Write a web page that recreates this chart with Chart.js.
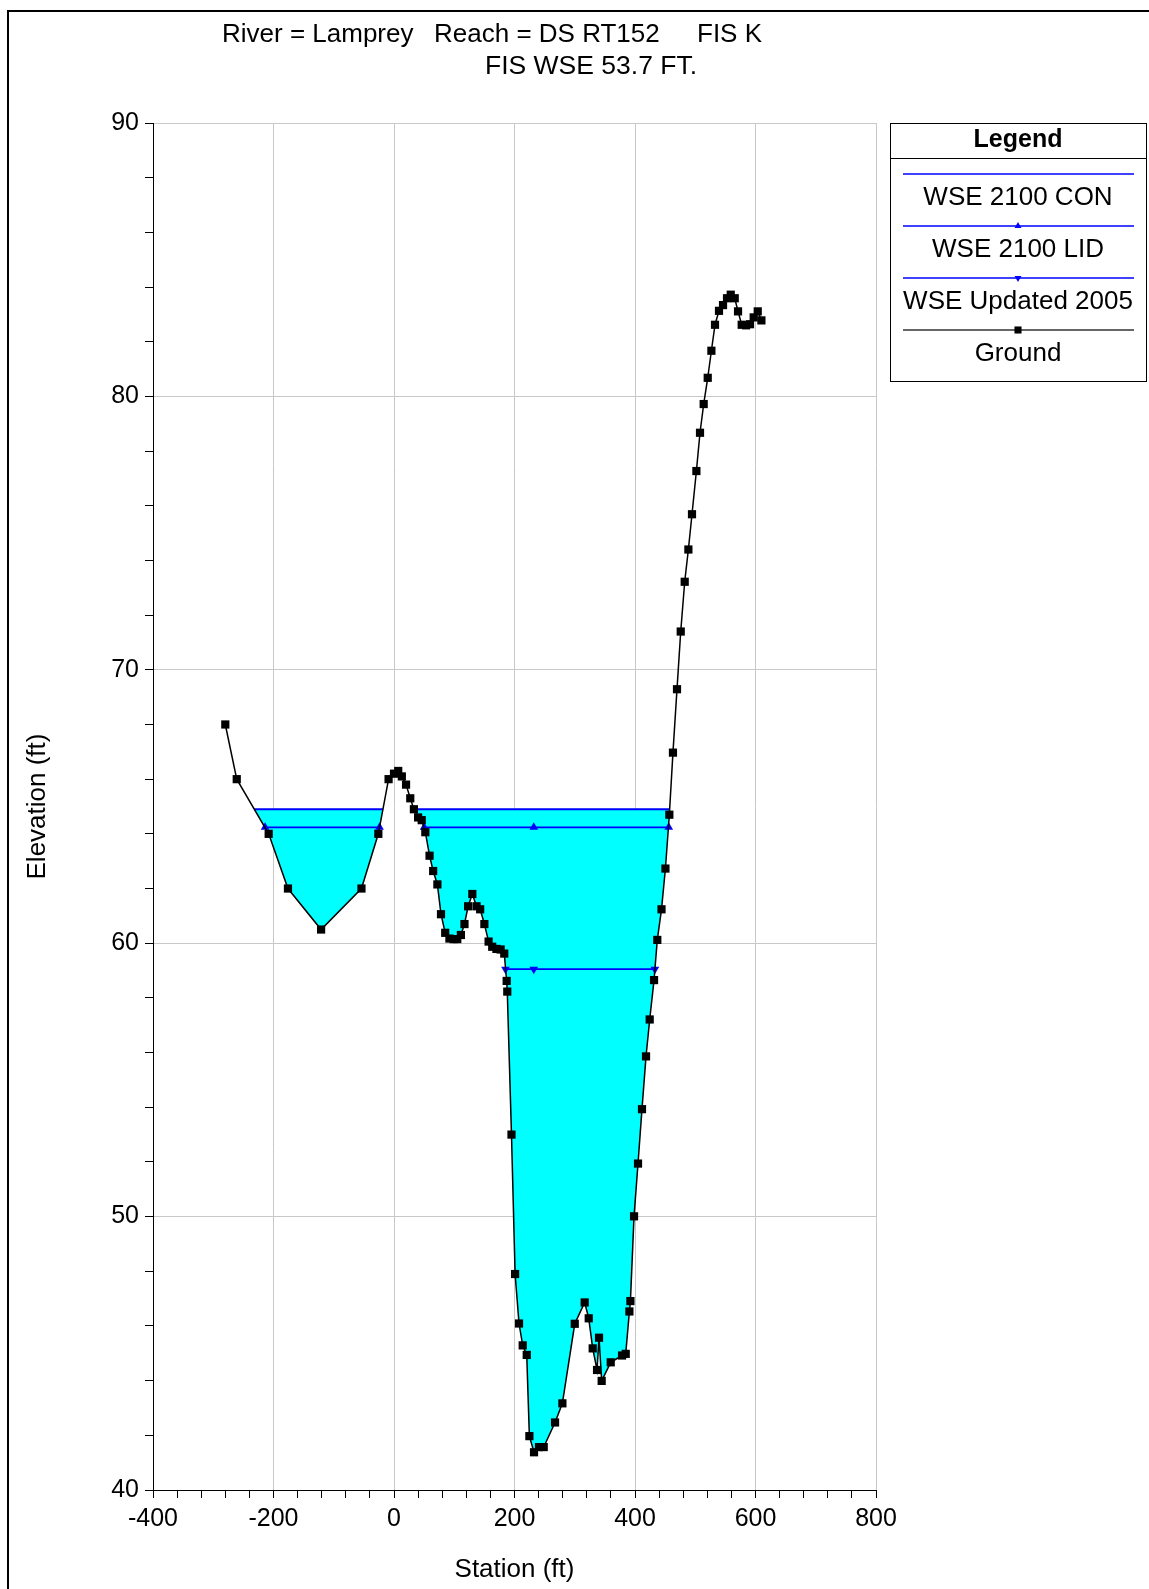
<!DOCTYPE html>
<html>
<head>
<meta charset="utf-8">
<title>River = Lamprey  Reach = DS RT152  FIS K</title>
<script src="https://cdn.jsdelivr.net/npm/chart.js@4.4.1/dist/chart.umd.min.js"></script>
<style>
  html, body { margin: 0; padding: 0; background: #fff; }
  #wrap { width: 1149px; height: 1589px; }
</style>
</head>
<body>
<div id="wrap"><canvas id="xsChart" width="1149" height="1589"></canvas></div>
<script>
// ground survey points (station ft, elevation ft)
const groundStation = [
  -280, -261, -208, -176, -121, -54, -26, -9, 0, 7, 13, 20, 27, 33, 40, 46, 52,
  59, 65, 72, 78, 85, 92, 99, 105, 111, 117, 123, 130, 137, 143, 150, 157, 163,
  170, 177, 183, 187, 188, 195, 201, 207.5, 213.6, 220.3, 224.7, 232.4, 240.7,
  248.5, 267.3, 279.5, 300, 316.5, 323.2, 329.8, 337, 340.3, 344.7, 359.7, 378.5,
  384.6, 390.7, 392.4, 398.4, 405, 411.6, 418.3, 424.4, 431.6, 437, 444, 450.5,
  457, 463, 469.7, 475.9, 482.5, 488.6, 494.6, 501.9, 507.9, 514, 520.7, 526.8,
  532.8, 539.4, 546.1, 552.7, 558.9, 565.5, 571, 577.1, 584.3, 590.9, 597, 603.7,
  609.8
];
const groundElev = [
  68.0, 66.0, 64.0, 62.0, 60.5, 62.0, 64.0, 66.0, 66.2, 66.3, 66.1, 65.8, 65.3,
  64.9, 64.6, 64.5, 64.06, 63.2, 62.64, 62.15, 61.06, 60.38, 60.17, 60.15, 60.15,
  60.3, 60.7, 61.35, 61.8, 61.35, 61.24, 60.7, 60.06, 59.87, 59.79, 59.77, 59.62,
  58.62, 58.23, 53.0, 47.9, 46.09, 45.29, 44.94, 41.97, 41.38, 41.57, 41.57,
  42.47, 43.17, 46.08, 46.86, 46.28, 45.18, 44.39, 45.57, 43.99, 44.67, 44.92,
  44.98, 46.53, 46.91, 50.01, 51.94, 53.93, 55.86, 57.21, 58.65, 60.12, 61.24,
  62.73, 64.7, 66.97, 69.29, 71.4, 73.22, 74.4, 75.69, 77.27, 78.67, 79.72,
  80.68, 81.67, 82.62, 83.13, 83.34, 83.59, 83.72, 83.59, 83.11, 82.62, 82.6,
  82.64, 82.89, 83.11, 82.78
];

// water surfaces: level and the stations where each wet segment is plotted
const conLevel = 64.9;
const conSegments = [[-232, -18], [33, 458]];
const lidLevel = 64.24;
const lidSegments = [[-214, -24], [50, 232, 456]];
const upd2005Level = 59.05;
const upd2005Segments = [[185, 232, 433]];

const seriesNames = ['Ground', 'WSE 2100 CON', 'WSE 2100 LID', 'WSE Updated 2005'];
const xTicks = [-400, -200, 0, 200, 400, 600, 800];
const yTicks = [40, 50, 60, 70, 80, 90];
const titleParts = ['River = Lamprey', 'Reach = DS RT152', 'FIS K'];
const subTitle = 'FIS WSE 53.7 FT.';
const xTitle = 'Station (ft)';
const yTitle = 'Elevation (ft)';

const FONT = '"Liberation Sans", Arial, Helvetica, sans-serif';
const GRID = '#c8c8c8';
const WATER_BLUE = '#0000ff';
const WATER_FILL = '#00ffff';

function surfacePoints(level, segments) {
  const pts = [];
  segments.forEach((seg, i) => {
    if (i > 0) pts.push({ x: seg[0], y: null });
    seg.forEach(st => pts.push({ x: st, y: level }));
  });
  return pts;
}

const groundData = groundStation.map((st, i) => ({ x: st, y: groundElev[i] }));

function drawLegend(ctx) {
  const left = 890, top = 123, right = 1146, bottom = 381;
  const cx = 1018;
  ctx.lineWidth = 1;
  ctx.strokeStyle = '#000';
  ctx.strokeRect(left + 0.5, top + 0.5, right - left, bottom - top);
  ctx.beginPath();
  ctx.moveTo(left, 158.5);
  ctx.lineTo(right, 158.5);
  ctx.stroke();

  ctx.fillStyle = '#000';
  ctx.textAlign = 'center';
  ctx.textBaseline = 'middle';
  ctx.font = 'bold 25px ' + FONT;
  ctx.fillText('Legend', cx, 140);

  const entries = [
    { name: seriesNames[1], color: WATER_BLUE, marker: null },
    { name: seriesNames[2], color: WATER_BLUE, marker: { pointStyle: 'triangle', radius: 4, rotation: 0 } },
    { name: seriesNames[3], color: WATER_BLUE, marker: { pointStyle: 'triangle', radius: 4, rotation: 180 } },
    { name: seriesNames[0], color: '#333', marker: { pointStyle: 'rect', radius: 5, rotation: 0 }, markColor: '#000' }
  ];
  entries.forEach((e, i) => {
    const ly = 174 + i * 52;
    ctx.strokeStyle = e.color;
    ctx.lineWidth = 1.5;
    ctx.beginPath();
    ctx.moveTo(903, ly);
    ctx.lineTo(1134, ly);
    ctx.stroke();
    if (e.marker) {
      ctx.fillStyle = e.markColor || e.color;
      Chart.helpers.drawPoint(ctx, Object.assign({ borderWidth: 0 }, e.marker), cx, ly);
    }
    ctx.fillStyle = '#000';
    ctx.font = '26px ' + FONT;
    ctx.fillText(e.name, cx, ly + 24);
  });
}

const decorPlugin = {
  id: 'decor',
  afterDraw(chart) {
    const ctx = chart.ctx;
    const area = chart.chartArea;
    ctx.save();

    // page frame (left and top edges)
    ctx.strokeStyle = '#000';
    ctx.lineWidth = 2;
    ctx.beginPath();
    ctx.moveTo(8, chart.height);
    ctx.lineTo(8, 11);
    ctx.lineTo(chart.width, 11);
    ctx.stroke();

    // titles
    ctx.fillStyle = '#000';
    ctx.textBaseline = 'middle';
    ctx.font = '26px ' + FONT;
    ctx.textAlign = 'left';
    ctx.fillText(titleParts[0], 222, 35);
    ctx.fillText(titleParts[1], 434, 35);
    ctx.fillText(titleParts[2], 697, 35);
    ctx.font = '26.5px ' + FONT;
    ctx.fillText(subTitle, 485, 67);

    // axis titles
    ctx.font = '26px ' + FONT;
    ctx.textAlign = 'center';
    ctx.fillText(xTitle, (area.left + area.right) / 2, 1570);
    ctx.save();
    ctx.translate(38, (area.top + area.bottom) / 2);
    ctx.rotate(-Math.PI / 2);
    ctx.fillText(yTitle, 0, 0);
    ctx.restore();

    drawLegend(ctx);
    ctx.restore();
  }
};

const isMajor = (list, v) => list.includes(Math.round(v));

const chart = new Chart(document.getElementById('xsChart'), {
  type: 'line',
  data: {
    datasets: [
      {
        label: seriesNames[0],
        data: groundData,
        borderColor: '#000',
        borderWidth: 1.5,
        pointStyle: 'rect',
        pointRadius: 5.8,
        pointBackgroundColor: '#000',
        pointBorderWidth: 0,
        fill: false,
        tension: 0
      },
      {
        label: seriesNames[1],
        data: surfacePoints(conLevel, conSegments),
        borderColor: WATER_BLUE,
        borderWidth: 2,
        pointRadius: 0,
        fill: { target: 0, above: WATER_FILL, below: 'rgba(0,0,0,0)' }
      },
      {
        label: seriesNames[2],
        data: surfacePoints(lidLevel, lidSegments),
        borderColor: WATER_BLUE,
        borderWidth: 1.8,
        pointStyle: 'triangle',
        pointRadius: 5,
        pointBackgroundColor: WATER_BLUE,
        pointBorderWidth: 0,
        fill: false
      },
      {
        label: seriesNames[3],
        data: surfacePoints(upd2005Level, upd2005Segments),
        borderColor: WATER_BLUE,
        borderWidth: 1.8,
        pointStyle: 'triangle',
        pointRotation: 180,
        pointRadius: 5,
        pointBackgroundColor: WATER_BLUE,
        pointBorderWidth: 0,
        fill: false
      }
    ]
  },
  options: {
    responsive: false,
    animation: false,
    events: [],
    layout: { padding: { top: 123, right: 273, left: 0, bottom: 0 } },
    plugins: {
      legend: { display: false },
      title: { display: false },
      tooltip: { enabled: false },
      filler: { drawTime: 'beforeDatasetsDraw', propagate: false }
    },
    scales: {
      x: {
        type: 'linear',
        min: -400,
        max: 800,
        afterFit(scale) { scale.height = 99; },
        ticks: {
          stepSize: 40,
          autoSkip: false,
          maxRotation: 0,
          padding: 6,
          color: '#000',
          font: { family: FONT, size: 25 },
          callback: v => isMajor(xTicks, v) ? String(Math.round(v)) : ''
        },
        grid: {
          color: c => (c.tick && isMajor(xTicks, c.tick.value)) ? GRID : 'rgba(0,0,0,0)',
          tickColor: '#000',
          tickLength: 8,
          lineWidth: 1
        },
        border: { color: '#000', width: 1 }
      },
      y: {
        type: 'linear',
        min: 40,
        max: 90,
        afterFit(scale) { scale.width = 153; },
        ticks: {
          stepSize: 2,
          autoSkip: false,
          padding: 6,
          color: '#000',
          font: { family: FONT, size: 25 },
          callback: v => isMajor(yTicks, v) ? String(Math.round(v)) : ''
        },
        grid: {
          color: c => (c.tick && isMajor(yTicks, c.tick.value)) ? GRID : 'rgba(0,0,0,0)',
          tickColor: '#000',
          tickLength: 8,
          lineWidth: 1
        },
        border: { color: '#000', width: 1 }
      }
    }
  },
  plugins: [decorPlugin]
});
</script>
</body>
</html>
